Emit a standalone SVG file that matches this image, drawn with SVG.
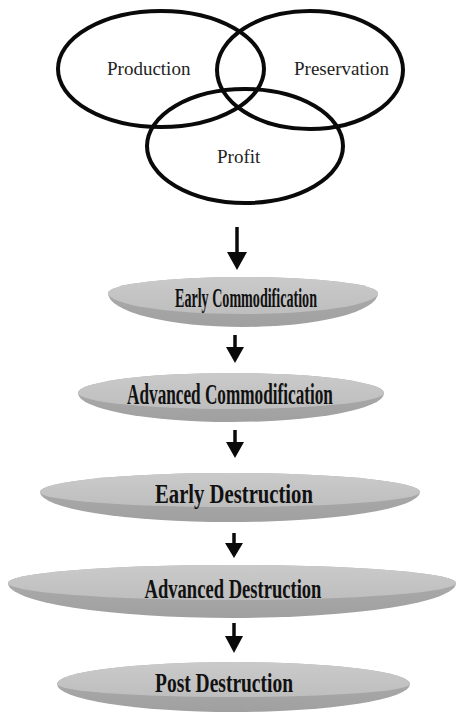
<svg xmlns="http://www.w3.org/2000/svg" width="457" height="715" viewBox="0 0 457 715">
<style>
.venn{fill:none;stroke:#0a0a0a;stroke-width:4}
.vt{font-family:"Liberation Serif","Times New Roman",serif;font-size:19px;fill:#222}
.body{fill:url(#rim)}
.face{fill:url(#top)}
.dt{font-family:"Liberation Serif","Times New Roman",serif;font-weight:bold;fill:#111;text-anchor:middle}
.shaft{stroke:#0a0a0a;stroke-width:3.5}
.head{fill:#0a0a0a}
</style>
<defs>
<linearGradient id="top" x1="0" y1="0" x2="0" y2="1">
<stop offset="0" stop-color="#cacaca"/><stop offset="1" stop-color="#bebebe"/>
</linearGradient>
<linearGradient id="rim" x1="0" y1="0" x2="0" y2="1">
<stop offset="0" stop-color="#aeaeae"/><stop offset="1" stop-color="#a0a0a0"/>
</linearGradient>
</defs>
<rect width="457" height="715" fill="#fff"/>
<g id="venn">
<g id="production"><ellipse class="venn" cx="161" cy="69" rx="103" ry="58"/><text class="vt" x="107" y="75">Production</text></g>
<g id="preservation"><ellipse class="venn" cx="310" cy="70" rx="93" ry="59"/><text class="vt" x="294" y="75">Preservation</text></g>
<g id="profit"><ellipse class="venn" cx="245" cy="146" rx="98" ry="57"/><text class="vt" x="217" y="163">Profit</text></g>
</g>
<g id="connectors">
<line class="shaft" x1="237" y1="227" x2="237" y2="254"/><polygon class="head" points="227,252 247,252 237,270"/>
<line class="shaft" x1="235" y1="335" x2="235" y2="349"/><polygon class="head" points="226,347 244,347 235,363"/>
<line class="shaft" x1="235" y1="430" x2="235" y2="444"/><polygon class="head" points="226,442 244,442 235,458"/>
<line class="shaft" x1="234" y1="533" x2="234" y2="545"/><polygon class="head" points="225,543 243,543 234,558"/>
<line class="shaft" x1="234" y1="623" x2="234" y2="638"/><polygon class="head" points="225,636 243,636 234,653"/>
</g>
<g id="early-commodification">
<path class="body" d="M108,293 A135,16 0 0 1 378,293 A135,34 0 0 1 108,293 Z"/>
<path class="face" d="M108,293 A135,16 0 0 1 378,293 A135,21 0 0 1 108,293 Z"/>
<text class="dt" font-size="27" transform="translate(246,307) scale(0.522,1)">Early Commodification</text>
</g>
<g id="advanced-commodification">
<path class="body" d="M78,393 A153,20 0 0 1 384,393 A153,29 0 0 1 78,393 Z"/>
<path class="face" d="M78,393 A153,20 0 0 1 384,393 A153,16 0 0 1 78,393 Z"/>
<text class="dt" font-size="29" transform="translate(230,404) scale(0.593,1)">Advanced Commodification</text>
</g>
<g id="early-destruction">
<path class="body" d="M40,492 A190,19 0 0 1 420,492 A190,30 0 0 1 40,492 Z"/>
<path class="face" d="M40,492 A190,19 0 0 1 420,492 A190,15 0 0 1 40,492 Z"/>
<text class="dt" font-size="27" transform="translate(234,503) scale(0.766,1)">Early Destruction</text>
</g>
<g id="advanced-destruction">
<path class="body" d="M8,583 A224,18 0 0 1 456,583 A224,35 0 0 1 8,583 Z"/>
<path class="face" d="M8,583 A224,18 0 0 1 456,583 A224,17 0 0 1 8,583 Z"/>
<text class="dt" font-size="28" transform="translate(233,598) scale(0.663,1)">Advanced Destruction</text>
</g>
<g id="post-destruction">
<path class="body" d="M57,684 A176.5,22 0 0 1 410,684 A176.5,28 0 0 1 57,684 Z"/>
<path class="face" d="M57,684 A176.5,22 0 0 1 410,684 A176.5,13 0 0 1 57,684 Z"/>
<text class="dt" font-size="27" transform="translate(224,692) scale(0.722,1)">Post Destruction</text>
</g>
</svg>
